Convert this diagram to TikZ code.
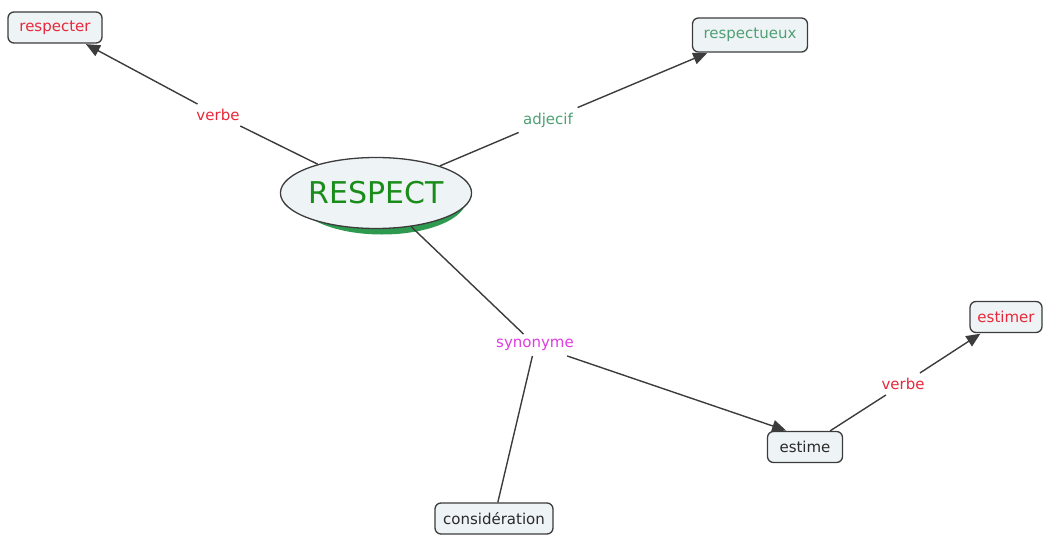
\documentclass[tikz,border=0pt]{standalone}
\usepackage{fontspec}
\setmainfont{DejaVu Sans}
\usetikzlibrary{shapes.geometric,arrows.meta}
\definecolor{boxfill}{HTML}{EEF3F5}
\definecolor{boxdraw}{HTML}{3C3C3C}
\definecolor{ctext}{HTML}{2A2A2A}
\definecolor{cred}{HTML}{E8283A}
\definecolor{cgreen}{HTML}{4FA074}
\definecolor{cmag}{HTML}{E03CE0}
\definecolor{cdark}{HTML}{1A8C1A}
\definecolor{cshadow}{HTML}{2E9A50}
\tikzset{
  concept/.style={draw=boxdraw, line width=1.3pt, fill=boxfill, rounded corners=6pt,
    font=\fontsize{15}{17}\selectfont, text=ctext, inner sep=0pt, anchor=center},
  linklabel/.style={font=\fontsize{15}{17}\selectfont, inner sep=5pt, fill=white},
  conn/.style={draw=boxdraw, line width=1.4pt},
  arr/.style={conn, -{Triangle[length=14pt,width=12pt]}, shorten >=1pt}
}
\begin{document}
\begin{tikzpicture}[x=1pt,y=-1pt]
\useasboundingbox (0,0) rectangle (1043,535);
% main concept
\fill[cshadow] (382,199) ellipse [x radius=84.5, y radius=35.5];
\node[ellipse, draw=boxdraw, line width=1.3pt, fill=boxfill, minimum width=169pt, minimum height=71pt,
  inner sep=0pt, text=cdark, font=\fontsize{30}{33}\selectfont] (respect) at (376,193) {RESPECT};
% concepts
\node[concept, minimum width=94pt, minimum height=31pt, text=cred] (respecter) at (55,27.5) {respecter};
\node[concept, minimum width=115pt, minimum height=34pt, text=cgreen] (respectueux) at (750,35) {respectueux};
\node[concept, minimum width=75pt, minimum height=31pt] (estime) at (805,447) {estime};
\node[concept, minimum width=72pt, minimum height=31pt, text=cred] (estimer) at (1006,317) {estimer};
\node[concept, minimum width=118pt, minimum height=31pt] (consid) at (494,518.5) {considération};
% link labels
\node[linklabel, text=cred] (verbeA) at (218,115) {verbe};
\node[linklabel, text=cgreen] (adj) at (548,120) {adjecif};
\node[linklabel, text=cmag] (syn) at (535,345) {synonyme};
\node[linklabel, text=cred] (verbeB) at (903,384) {verbe};
% connectors
\draw[conn] (respect) -- (verbeA);
\draw[arr] (verbeA) -- (respecter);
\draw[conn] (respect) -- (adj);
\draw[arr] (adj) -- (respectueux);
\draw[conn] (respect) -- (syn);
\draw[arr] (syn) -- (estime.138);
\draw[conn] (syn) -- (consid);
\draw[conn] (estime) -- (verbeB);
\draw[arr] (verbeB) -- (estimer);
\end{tikzpicture}
\end{document}
